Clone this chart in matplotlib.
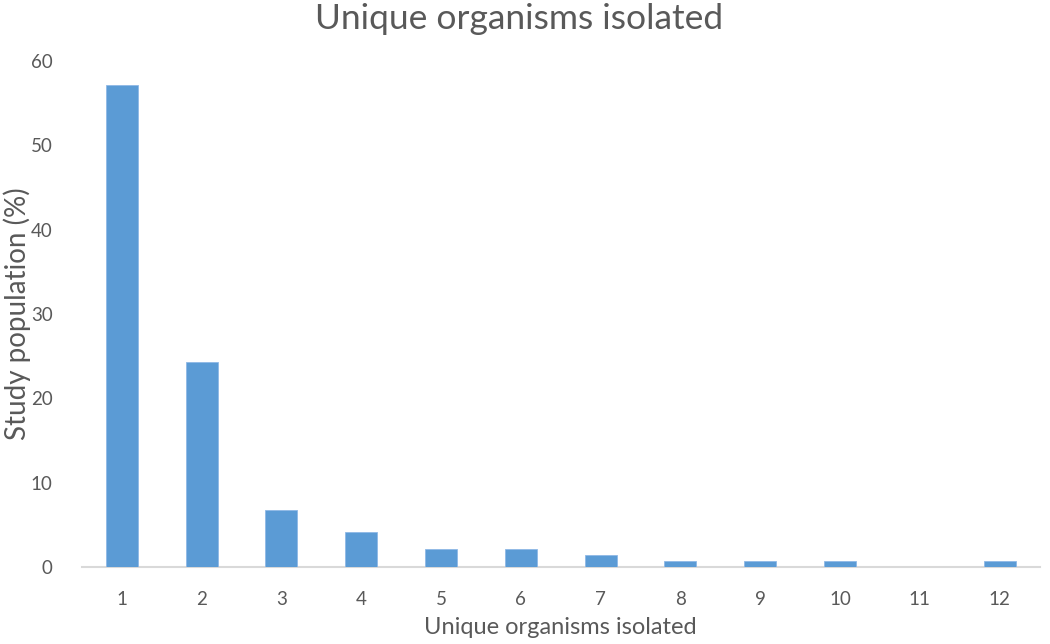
import matplotlib as mpl
mpl.use("Agg")
import matplotlib.pyplot as plt

categories = [1, 2, 3, 4, 5, 6, 7, 8, 9, 10, 11, 12]
values = [57.2, 24.3, 6.8, 4.1, 2.1, 2.1, 1.4, 0.7, 0.7, 0.7, 0.0, 0.7]
yticks = [0, 10, 20, 30, 40, 50, 60]

TXT = "#595959"
BAR = "#5B9BD5"
plt.rcParams.update({"font.family": ["Lato", "DejaVu Sans"]})

fig = plt.figure(figsize=(10.5, 6.44), dpi=100)
ax = fig.add_axes([0.078, 0.1196, 0.912, 0.7855])
ax.bar(categories, values, width=0.4, color=BAR, edgecolor="#8FB8E6", linewidth=0.6, zorder=3)
ax.set_xlim(0.5, 12.5)
ax.set_ylim(0, 60)
ax.set_xticks(categories)
ax.set_yticks(yticks)
for s in ["top", "right", "left"]:
    ax.spines[s].set_visible(False)
ax.spines["bottom"].set_color("#D9D9D9")
ax.spines["bottom"].set_linewidth(1.5)
ax.tick_params(axis="both", length=0, labelsize=13.5, colors=TXT)
ax.tick_params(axis="x", pad=17)
ax.tick_params(axis="y", pad=21)
ax.set_xlabel("Unique organisms isolated", fontsize=17, color=TXT, labelpad=7)
# y label placed by hand so it does not touch the left edge
fig.text(0.016, 0.513, "Study population (%)", rotation=90, ha="center", va="center", fontsize=20, color=TXT)
fig.text(0.494, 0.970, "Unique organisms isolated", ha="center", va="center", fontsize=25.5, color=TXT)
fig.savefig("out.png", dpi=100)
